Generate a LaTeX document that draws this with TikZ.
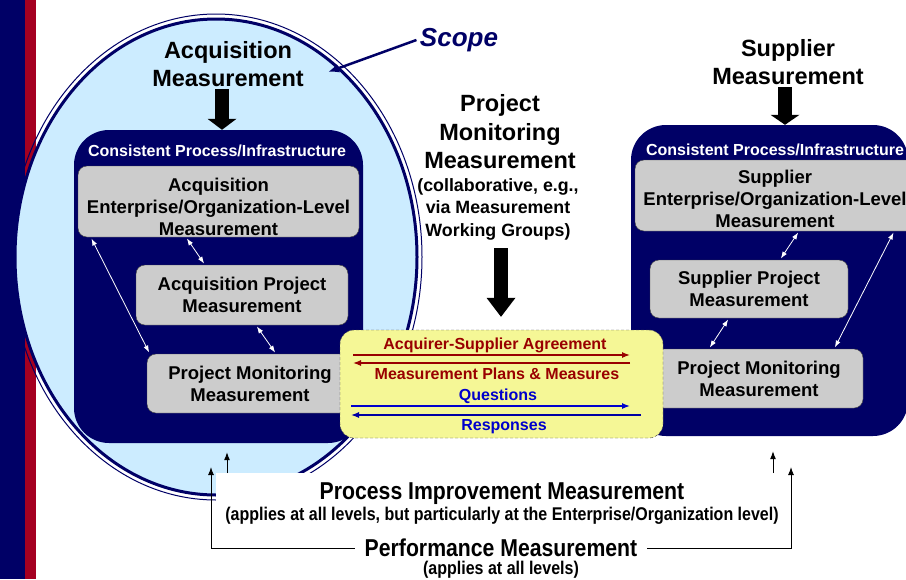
\documentclass[tikz,border=0pt]{standalone}
\usepackage{fontspec}
\setmainfont{Liberation Sans}
\newfontfamily\narrowsans[FakeStretch=0.87]{Liberation Sans}
\usepackage{tikz}
\usetikzlibrary{arrows.meta}

\definecolor{navy}{RGB}{0,0,102}
\definecolor{barred}{RGB}{165,0,33}
\definecolor{scopeblue}{RGB}{204,236,255}
\definecolor{boxgray}{RGB}{204,204,204}
\definecolor{noteyellow}{RGB}{245,247,150}
\definecolor{agreered}{RGB}{153,0,0}
\definecolor{questblue}{RGB}{0,0,204}

\begin{document}
\begin{tikzpicture}[x=1pt,y=-1pt,
		infra/.style={rectangle,rounded corners=35pt,fill=navy,inner sep=0pt},
		level/.style={rectangle,rounded corners=9pt,draw=black!75,fill=boxgray,inner sep=0pt,align=center,font=\fontsize{18.5}{22}\selectfont\bfseries},
		leveltext/.style={align=center,inner sep=0pt,font=\fontsize{18.5}{22}\selectfont\bfseries,yshift=#1},
		heading/.style={text=white,inner sep=1pt,font=\fontsize{16}{19}\selectfont\bfseries},
		bigtitle/.style={align=center,inner sep=2pt,font=\fontsize{23.5}{28.5}\selectfont\bfseries},
		linkarrow/.style={white,line width=0.8pt,{Latex[length=7pt,width=5pt]}-{Latex[length=7pt,width=5pt]},shorten <=1.5pt,shorten >=1.5pt},
		blockarrow/.style={line width=14pt,-{Triangle[width=29pt,length=#1,line width=0pt]}},
		flow/.style={line width=1.3pt,-{Latex[length=8pt,width=6pt]}},
		flowtext/.style={inner sep=1pt,font=\fontsize{16}{19}\selectfont\bfseries},
		up/.style={line width=1pt,-{Latex[length=8pt,width=6pt]}}]
		\clip (0,0) rectangle (906,579);
%		\draw[help lines,step=50] (0,0) grid (906,579);
		\path (216,257) coordinate (scope_c);
		\path (459,40) coordinate (scope_t);
		\path (328,72) coordinate (scopetip);

		\path (218.5,286.5) coordinate (acqinfra_c);
		\path (217,151) coordinate (acqhead_c);
		\path (218.5,201.5) coordinate (acqent_c);
		\path (242,295) coordinate (acqproj_c);
		\path (250,383.5) coordinate (pmacq_c);

		\path (769.5,280.5) coordinate (supinfra_c);
		\path (775,150) coordinate (suphead_c);
		\path (775,195.5) coordinate (supent_c);
		\path (749,289) coordinate (supproj_c);
		\path (759,378.5) coordinate (pmsup_c);

		\path (228,64) coordinate (acqmeas_c);
		\path (788,62) coordinate (supmeas_c);
		\path (500,132) coordinate (pmtitle_c);
		\path (498,209) coordinate (pmnote_c);

		\path (501.5,384) coordinate (agreement_c);
		\path (353,355) coordinate (agree_l);
		\path (630,355) coordinate (agree_r);
		\path (353,363) coordinate (plans_l);
		\path (630,363) coordinate (plans_r);
		\path (351,406) coordinate (quest_l);
		\path (630,406) coordinate (quest_r);
		\path (351,415) coordinate (resp_l);
		\path (641,415) coordinate (resp_r);

		\path (216,473) coordinate (pibox_nw);
		\path (502,494) coordinate (pim_c);
		\path (502,516) coordinate (pimnote_c);
		\path (501,548) coordinate (perf_c);
		\path (501,570) coordinate (perfnote_c);
		\path (211,467) coordinate (perf_lt);
		\path (791,467) coordinate (perf_rt);

		% side bar
		\fill[navy] (0,0) rectangle (25,579);
		\fill[barred] (25,0) rectangle (36,579);

		% scope
		\draw[navy,line width=1pt] (scope_c) ellipse [x radius=206, y radius=243];
		\filldraw[fill=scopeblue,draw=navy,line width=3pt] (scope_c) ellipse [x radius=201, y radius=238];

		% acquirer side
		\node[infra,minimum width=289pt,minimum height=313pt] (acqinfra) at (acqinfra_c) {};
		\node[heading] (acqhead) at (acqhead_c) {Consistent Process/Infrastructure};
		\node[level,minimum width=281pt,minimum height=71pt] (acqent) at (acqent_c) {};
		\node[leveltext=-5pt] (acqenttext) at (acqent.center) {Acquisition\\Enterprise/Organization-Level\\Measurement};
		\node[level,minimum width=212pt,minimum height=60pt] (acqproj) at (acqproj_c) {Acquisition Project\\Measurement};
		\node[level,minimum width=206pt,minimum height=59pt] (pmacq) at (pmacq_c) {Project Monitoring\\Measurement};
		\draw[linkarrow] ([xshift=13pt]acqent.south west) -- ([xshift=3pt]pmacq.north west);
		\draw[linkarrow] ([xshift=-32.5pt]acqent.south) -- ([xshift=-37pt]acqproj.north);
		\draw[linkarrow] ([xshift=14pt]acqproj.south) -- ([xshift=26pt]pmacq.north);

		% supplier side
		\node[infra,minimum width=277pt,minimum height=311pt] (supinfra) at (supinfra_c) {};
		\node[heading] (suphead) at (suphead_c) {Consistent Process/Infrastructure};
		\node[level,minimum width=280pt,minimum height=71pt] (supent) at (supent_c) {};
		\node[leveltext=-3pt] (supenttext) at (supent.center) {Supplier\\Enterprise/Organization-Level\\Measurement};
		\node[level,minimum width=198pt,minimum height=58pt] (supproj) at (supproj_c) {Supplier Project\\Measurement};
		\node[level,minimum width=208pt,minimum height=59pt] (pmsup) at (pmsup_c) {Project Monitoring\\Measurement};
		\draw[linkarrow] ([xshift=24pt]supent.south) -- ([xshift=31pt]supproj.north);
		\draw[linkarrow] ([xshift=-20pt]supproj.south) -- ([xshift=-50pt]pmsup.north);
		\draw[linkarrow] ([xshift=-21pt]supent.south east) -- ([xshift=-29pt]pmsup.north east);

		% agreement
		\node[rectangle,rounded corners=14pt,draw=black!75,dash pattern=on 3pt off 2pt,fill=noteyellow,minimum width=323pt,minimum height=108pt] (agreement) at (agreement_c) {};
		\draw[flow,agreered] (agree_l) -- (agree_r);
		\draw[flow,agreered] (plans_r) -- (plans_l);
		\draw[flow,questblue] (quest_l) -- (quest_r);
		\draw[flow,questblue!80!black] (resp_r) -- (resp_l);
		\node[flowtext,text=agreered] (agree) at (495,345) {Acquirer-Supplier Agreement};
		\node[flowtext,text=agreered] (plans) at (497,374) {Measurement Plans \& Measures};
		\node[flowtext,text=questblue] (quest) at (498,396) {Questions};
		\node[flowtext,text=questblue] (resp) at (504,427) {Responses};

		% titles
		\node[bigtitle] (acqmeas) at (acqmeas_c) {Acquisition\\Measurement};
		\node[bigtitle] (supmeas) at (supmeas_c) {Supplier\\Measurement};
		\node[bigtitle] (pmtitle) at (pmtitle_c) {Project\\Monitoring\\Measurement};
		\node[align=center,inner sep=2pt,font=\fontsize{17.8}{22.5}\selectfont\bfseries] (pmnote) at (pmnote_c) {(collaborative, e.g.,\\via Measurement\\Working Groups)};
		\draw[blockarrow=11pt] ([xshift=-6pt]acqmeas.south) -- ([xshift=-6pt]acqmeas.south |- acqinfra.north);
		\draw[blockarrow=10pt] ([xshift=-3pt]supmeas.south) -- ([xshift=-3pt]supmeas.south |- supinfra.north);
		\draw[blockarrow=19pt,shorten <=6pt,shorten >=13pt] ([xshift=3pt]pmnote.south) -- ([xshift=3pt]pmnote.south |- agreement.north);

		\node[text=navy,font=\fontsize{26}{30}\selectfont\bfseries\itshape] (scope) at (scope_t) {Scope};
		\draw[navy,line width=2.5pt,-{Latex[length=11pt,width=9pt]}] (scope.west) -- (scopetip);

		% improvement and performance
		\node[fill=white,inner sep=0pt,minimum width=569pt,minimum height=106pt,anchor=north west] (pibox) at (pibox_nw) {};
		\node[inner sep=1pt,font=\fontsize{24.4}{28}\narrowsans\bfseries] (pim) at (pim_c) {Process Improvement Measurement};
		\node[inner sep=1pt,font=\fontsize{18.4}{22}\narrowsans\bfseries] (pimnote) at (pimnote_c) {(applies at all levels, but particularly at the Enterprise/Organization level)};
		\node[inner xsep=10pt,inner ysep=1pt,font=\fontsize{24.4}{28}\narrowsans\bfseries] (perf) at (perf_c) {Performance Measurement};
		\node[inner sep=1pt,font=\fontsize{18.4}{22}\narrowsans\bfseries] (perfnote) at (perfnote_c) {(applies at all levels)};
		\draw[up,shorten >=9pt] ([xshift=11pt]pibox.north west) -- ([xshift=11pt]pibox.north west |- acqinfra.south);
		\draw[up,shorten >=15pt] ([xshift=557pt]pibox.north west) -- ([xshift=557pt]pibox.north west |- supinfra.south);
		\draw[up] (perf.west) -| (perf_lt);
		\draw[up] (perf.east) -| (perf_rt);

	\end{tikzpicture}
\end{document}
